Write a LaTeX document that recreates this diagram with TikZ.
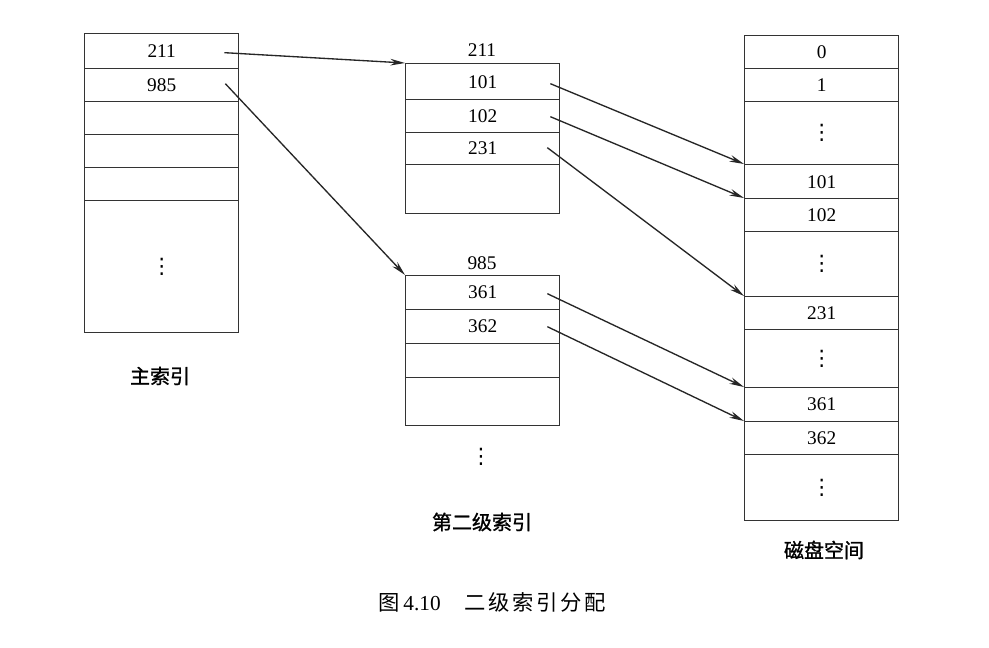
\documentclass[tikz,border=0pt]{standalone}
\usepackage{fontspec}
\setmainfont{Liberation Serif}
\newfontfamily\cjk{Noto Sans CJK SC}
\newfontfamily\cjkb{Noto Sans CJK SC}[FakeBold=1.2]
\newfontfamily\dv{DejaVu Sans}
\usetikzlibrary{arrows.meta,calc}
\newcommand\mydots{{\dv\fontsize{16}{17}\selectfont ⋮}}
\begin{document}
\begin{tikzpicture}[x=0.75pt,y=-0.75pt,
  cell/.style={draw=black!80, line width=1pt, minimum width=115.5pt, inner sep=0pt,
    anchor=north west, font=\fontsize{14.5}{16}\selectfont},
  rowh/.style={minimum height={#1*0.75pt}},
  lbl/.style={inner sep=0pt, font=\fontsize{14.5}{16}\selectfont},
  cjklbl/.style={inner sep=0pt, font=\cjkb\fontsize{15}{17}\selectfont},
  arr/.style={draw=black!85, line width=1pt, -{Stealth[length=11pt,width=5pt]}}
]
\useasboundingbox (0,0) rectangle (989,647);
\fill[white] (0,0) rectangle (989,647);

% main index
\node[cell, rowh=35] (l211) at (84,33) {211};
\node[cell, rowh=33] (l985) at (84,68) {985};
\node[cell, rowh=33] (l3) at (84,101) {};
\node[cell, rowh=33] (l4) at (84,134) {};
\node[cell, rowh=33] (l5) at (84,167) {};
\node[cell, rowh=132] (l6) at (84,200) {\mydots};
\node[cjklbl] (lmain) at (160,376) {主索引};

% second-level index 211
\node[lbl] (h211) at (482,50) {211};
\node[cell, rowh=36] (m101) at (405,63) {101};
\node[cell, rowh=33] (m102) at (405,99) {102};
\node[cell, rowh=32] (m231) at (405,132) {231};
\node[cell, rowh=49] (m4) at (405,164) {};

% second-level index 985
\node[lbl] (h985) at (482,263) {985};
\node[cell, rowh=34] (m361) at (405,275) {361};
\node[cell, rowh=34] (m362) at (405,309) {362};
\node[cell, rowh=34] (m3b) at (405,343) {};
\node[cell, rowh=48] (m4b) at (405,377) {};
\node[lbl] (mdots) at (481,457) {\mydots};
\node[cjklbl] (lsecond) at (482,522) {第二级索引};

% disk space
\node[cell, rowh=33] (d0) at (744,35) {0};
\node[cell, rowh=33] (d1) at (744,68) {1};
\node[cell, rowh=63] (dd1) at (744,101) {\mydots};
\node[cell, rowh=34] (d101) at (744,164) {101};
\node[cell, rowh=33] (d102) at (744,198) {102};
\node[cell, rowh=65] (dd2) at (744,231) {\mydots};
\node[cell, rowh=33] (d231) at (744,296) {231};
\node[cell, rowh=58] (dd3) at (744,329) {\mydots};
\node[cell, rowh=34] (d361) at (744,387) {361};
\node[cell, rowh=33] (d362) at (744,421) {362};
\node[cell, rowh=66] (dd4) at (744,454) {\mydots};
\node[cjklbl] (ldisk) at (824,550) {磁盘空间};

% arrows
\draw[arr] ($(l211.east)+(-15,1.5)$) -- (m101.north west);
\draw[arr] ($(l985.east)+(-14,-1.5)$) -- (m361.north west);
\draw[arr] ($(m101.east)+(-10,2)$) -- (d101.north west);
\draw[arr] ($(m102.east)+(-10,0.5)$) -- (d102.north west);
\draw[arr] ($(m231.east)+(-13,-1)$) -- (d231.north west);
\draw[arr] ($(m361.east)+(-13,1)$) -- (d361.north west);
\draw[arr] ($(m362.east)+(-13,0)$) -- (d362.north west);

% caption
\node[inner sep=0pt, font=\fontsize{16}{18}\selectfont] (cap) at (492,602)
  {{\cjk 图}\,4.10\hspace{18pt}{\cjk\addfontfeature{LetterSpace=12}二级索引分配}};
\end{tikzpicture}
\end{document}
